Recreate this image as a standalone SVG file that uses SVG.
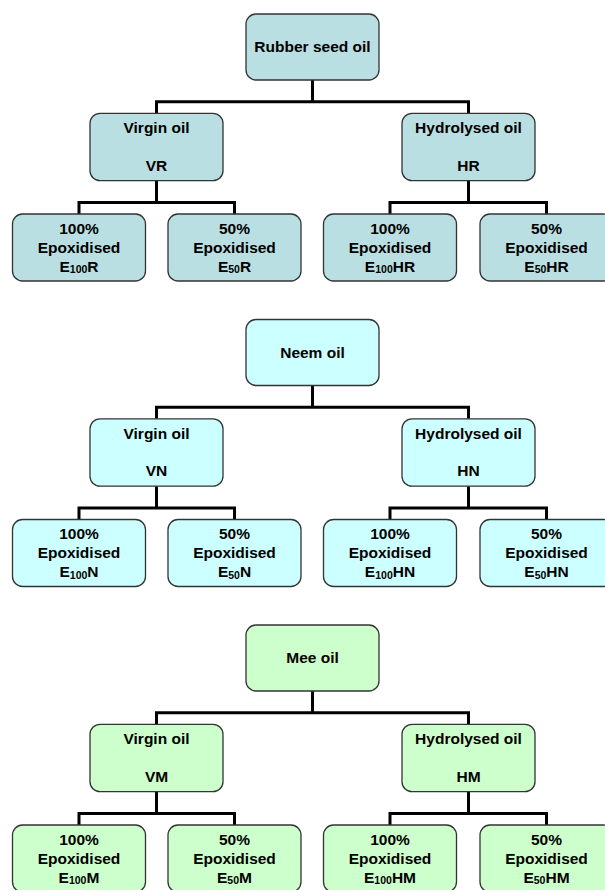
<svg xmlns="http://www.w3.org/2000/svg" width="605" height="890" viewBox="0 0 605 890">
<style>
.box{stroke:#333333;stroke-width:1.3}
.r{fill:#B9DFE2}
.n{fill:#CCFFFF}
.m{fill:#CCFFCC}
.conn{fill:none;stroke:#000000;stroke-width:3}
text{font-family:"Liberation Sans",Arial,sans-serif;font-weight:bold;font-size:15.5px;fill:#000000;text-anchor:middle}
.sub{font-size:10.5px}
</style>
<rect width="605" height="890" fill="#FFFFFF"/>

<!-- Group 1: Rubber seed oil -->
<g id="connectors-rubber">
<path class="conn" d="M312.5,80 V101.7 M156.5,113.3 V101.7 H468.5 V113.3 M156.5,180.7 V202.5 M79,214 V202.5 H234.5 V214 M468.5,180.7 V202.5 M390,214 V202.5 H546.5 V214"/>
</g>
<g id="rubber-seed-oil"><rect class="box r" x="246" y="14" width="133" height="66" rx="10"/><text x="312.5" y="52.3">Rubber seed oil</text></g>
<g id="VR"><rect class="box r" x="90" y="113.3" width="133" height="67.4" rx="10"/><text x="156.5" y="133.3">Virgin oil</text><text x="156.5" y="170.5">VR</text></g>
<g id="HR"><rect class="box r" x="402" y="113.3" width="133" height="67.4" rx="10"/><text x="468.5" y="133.3">Hydrolysed oil</text><text x="468.5" y="170.5">HR</text></g>
<g id="E100R"><rect class="box r" x="12.5" y="214" width="133" height="67" rx="10"/><text x="79" y="233.5">100%</text><text x="79" y="252.5">Epoxidised</text><text x="79" y="271.5">E<tspan class="sub" dy="1.5">100</tspan><tspan dy="-1.5">R</tspan></text></g>
<g id="E50R"><rect class="box r" x="168" y="214" width="133" height="67" rx="10"/><text x="234.5" y="233.5">50%</text><text x="234.5" y="252.5">Epoxidised</text><text x="234.5" y="271.5">E<tspan class="sub" dy="1.5">50</tspan><tspan dy="-1.5">R</tspan></text></g>
<g id="E100HR"><rect class="box r" x="323.5" y="214" width="133" height="67" rx="10"/><text x="390" y="233.5">100%</text><text x="390" y="252.5">Epoxidised</text><text x="390" y="271.5">E<tspan class="sub" dy="1.5">100</tspan><tspan dy="-1.5">HR</tspan></text></g>
<g id="E50HR"><rect class="box r" x="480" y="214" width="133" height="67" rx="10"/><text x="546.5" y="233.5">50%</text><text x="546.5" y="252.5">Epoxidised</text><text x="546.5" y="271.5">E<tspan class="sub" dy="1.5">50</tspan><tspan dy="-1.5">HR</tspan></text></g>

<!-- Group 2: Neem oil -->
<g id="connectors-neem" transform="translate(0,305.5)">
<path class="conn" d="M312.5,80 V101.7 M156.5,113.3 V101.7 H468.5 V113.3 M156.5,180.7 V202.5 M79,214 V202.5 H234.5 V214 M468.5,180.7 V202.5 M390,214 V202.5 H546.5 V214"/>
</g>
<g id="neem-oil"><rect class="box n" x="246" y="319.5" width="133" height="66" rx="10"/><text x="312.5" y="357.8">Neem oil</text></g>
<g id="VN"><rect class="box n" x="90" y="418.8" width="133" height="67.4" rx="10"/><text x="156.5" y="438.8">Virgin oil</text><text x="156.5" y="476">VN</text></g>
<g id="HN"><rect class="box n" x="402" y="418.8" width="133" height="67.4" rx="10"/><text x="468.5" y="438.8">Hydrolysed oil</text><text x="468.5" y="476">HN</text></g>
<g id="E100N"><rect class="box n" x="12.5" y="519.5" width="133" height="67" rx="10"/><text x="79" y="539">100%</text><text x="79" y="558">Epoxidised</text><text x="79" y="577">E<tspan class="sub" dy="1.5">100</tspan><tspan dy="-1.5">N</tspan></text></g>
<g id="E50N"><rect class="box n" x="168" y="519.5" width="133" height="67" rx="10"/><text x="234.5" y="539">50%</text><text x="234.5" y="558">Epoxidised</text><text x="234.5" y="577">E<tspan class="sub" dy="1.5">50</tspan><tspan dy="-1.5">N</tspan></text></g>
<g id="E100HN"><rect class="box n" x="323.5" y="519.5" width="133" height="67" rx="10"/><text x="390" y="539">100%</text><text x="390" y="558">Epoxidised</text><text x="390" y="577">E<tspan class="sub" dy="1.5">100</tspan><tspan dy="-1.5">HN</tspan></text></g>
<g id="E50HN"><rect class="box n" x="480" y="519.5" width="133" height="67" rx="10"/><text x="546.5" y="539">50%</text><text x="546.5" y="558">Epoxidised</text><text x="546.5" y="577">E<tspan class="sub" dy="1.5">50</tspan><tspan dy="-1.5">HN</tspan></text></g>

<!-- Group 3: Mee oil -->
<g id="connectors-mee" transform="translate(0,611)">
<path class="conn" d="M312.5,80 V101.7 M156.5,113.3 V101.7 H468.5 V113.3 M156.5,180.7 V202.5 M79,214 V202.5 H234.5 V214 M468.5,180.7 V202.5 M390,214 V202.5 H546.5 V214"/>
</g>
<g id="mee-oil"><rect class="box m" x="246" y="625" width="133" height="66" rx="10"/><text x="312.5" y="663.3">Mee oil</text></g>
<g id="VM"><rect class="box m" x="90" y="724.3" width="133" height="67.4" rx="10"/><text x="156.5" y="744.3">Virgin oil</text><text x="156.5" y="781.5">VM</text></g>
<g id="HM"><rect class="box m" x="402" y="724.3" width="133" height="67.4" rx="10"/><text x="468.5" y="744.3">Hydrolysed oil</text><text x="468.5" y="781.5">HM</text></g>
<g id="E100M"><rect class="box m" x="12.5" y="825" width="133" height="67" rx="10"/><text x="79" y="844.5">100%</text><text x="79" y="863.5">Epoxidised</text><text x="79" y="882.5">E<tspan class="sub" dy="1.5">100</tspan><tspan dy="-1.5">M</tspan></text></g>
<g id="E50M"><rect class="box m" x="168" y="825" width="133" height="67" rx="10"/><text x="234.5" y="844.5">50%</text><text x="234.5" y="863.5">Epoxidised</text><text x="234.5" y="882.5">E<tspan class="sub" dy="1.5">50</tspan><tspan dy="-1.5">M</tspan></text></g>
<g id="E100HM"><rect class="box m" x="323.5" y="825" width="133" height="67" rx="10"/><text x="390" y="844.5">100%</text><text x="390" y="863.5">Epoxidised</text><text x="390" y="882.5">E<tspan class="sub" dy="1.5">100</tspan><tspan dy="-1.5">HM</tspan></text></g>
<g id="E50HM"><rect class="box m" x="480" y="825" width="133" height="67" rx="10"/><text x="546.5" y="844.5">50%</text><text x="546.5" y="863.5">Epoxidised</text><text x="546.5" y="882.5">E<tspan class="sub" dy="1.5">50</tspan><tspan dy="-1.5">HM</tspan></text></g>
</svg>
